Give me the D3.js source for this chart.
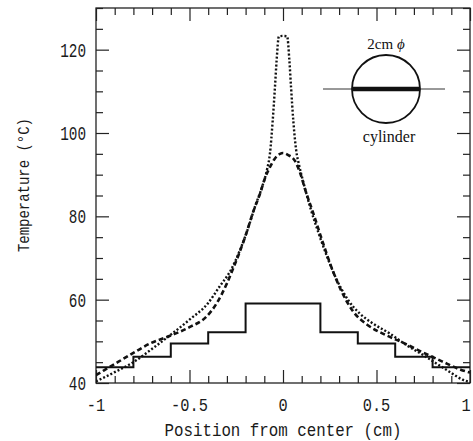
<!DOCTYPE html>
<html>
<head>
<meta charset="utf-8">
<title>Temperature profile</title>
<script src="https://d3js.org/d3.v7.min.js"></script>
<style>
body { margin: 0; background: #fff; }
.lbl { font-family: "Liberation Mono", "DejaVu Sans Mono", monospace; fill: #1a1a1a; }
.ser { font-family: "Liberation Serif", "Times New Roman", serif; fill: #111; }
</style>
</head>
<body>
<div id="chart"></div>
<script>
// dotted curve (sharp peak)
var dotX = [-1, -0.9, -0.8, -0.7, -0.6, -0.5, -0.4, -0.34, -0.28, -0.23, -0.19, -0.15, -0.11, -0.085, -0.07, -0.055, -0.043, -0.034, -0.022, 0, 0.022, 0.034, 0.043, 0.055, 0.07, 0.085, 0.11, 0.15, 0.19, 0.23, 0.28, 0.35, 0.41, 0.48, 0.57, 0.66, 0.75, 0.82, 0.89, 0.96, 1];
var dotY = [40.4, 42.6, 45.0, 48.2, 51.6, 55.2, 59.2, 63.1, 67.0, 71.9, 76.7, 82.3, 87.3, 91.3, 95.0, 103, 111, 117.5, 123.2, 123.3, 123.2, 117.5, 111, 103, 96, 92.5, 88, 81.5, 76, 71, 65.5, 59.8, 56.7, 54.3, 51.9, 49.1, 46.7, 44.7, 42.7, 40.8, 40.2];
// dashed curve (rounded peak)
var dashX = [-1, -0.91, -0.82, -0.71, -0.6, -0.5, -0.41, -0.355, -0.3, -0.27, -0.2, -0.16, -0.12, -0.096, -0.07, -0.043, -0.016, 0, 0.028, 0.064, 0.091, 0.12, 0.16, 0.2, 0.27, 0.31, 0.376, 0.45, 0.55, 0.65, 0.75, 0.85, 0.95, 1];
var dashY = [41.9, 44.3, 46.7, 49.5, 51.4, 53.4, 55.9, 59.1, 63.9, 67.1, 75.4, 81.0, 85.8, 89.2, 91.8, 93.9, 95.0, 95.2, 94.7, 93.3, 90.5, 86.2, 81.0, 75.5, 66.5, 62.3, 57.1, 54.0, 51.5, 49.5, 47.3, 45.2, 43.2, 42.5];
// solid step profile
var stepEdges = [-1, -0.8, -0.6, -0.4, -0.2, 0, 0.2, 0.4, 0.6, 0.8];
var stepVals = [43.8, 46.3, 49.5, 52.2, 59.1, 59.1, 52.2, 49.5, 46.3, 43.8];

var xMajor = [-1, -0.5, 0, 0.5, 1];
var xLabels = ["-1", "-0.5", "0", "0.5", "1"];
var yMajor = [40, 60, 80, 100, 120];
var yLabels = ["40", "60", "80", "100", "120"];

var W = 473, H = 441;
var L = 96, R = 470, T = 8, B = 383;

var svg = d3.select("#chart").append("svg").attr("width", W).attr("height", H);
var x = d3.scaleLinear().domain([-1, 1]).range([L, R]);
var y = d3.scaleLinear().domain([40, 130]).range([B, T]);

var xMinor = d3.range(-10, 11).map(function(i){ return i / 10; }).filter(function(v){ return xMajor.indexOf(v) < 0; });
var yMinor = d3.range(40, 131, 5).filter(function(v){ return yMajor.indexOf(v) < 0; });

function tickGroup(axis, tx, ty) {
  var g = svg.append("g").attr("transform", "translate(" + tx + "," + ty + ")").call(axis);
  g.select(".domain").remove();
  g.selectAll("text").remove();
  g.selectAll("line").attr("stroke", "#222").attr("stroke-width", 1.2);
}
tickGroup(d3.axisBottom(x).tickValues(xMajor).tickSize(-13), 0, B);
tickGroup(d3.axisBottom(x).tickValues(xMinor).tickSize(-7), 0, B);
tickGroup(d3.axisTop(x).tickValues(xMajor).tickSize(-13), 0, T);
tickGroup(d3.axisTop(x).tickValues(xMinor).tickSize(-7), 0, T);
tickGroup(d3.axisLeft(y).tickValues(yMajor).tickSize(-13), L, 0);
tickGroup(d3.axisLeft(y).tickValues(yMinor).tickSize(-7), L, 0);
tickGroup(d3.axisRight(y).tickValues(yMajor).tickSize(-13), R, 0);
tickGroup(d3.axisRight(y).tickValues(yMinor).tickSize(-7), R, 0);

svg.append("rect").attr("x", L).attr("y", T).attr("width", R - L).attr("height", B - T)
  .attr("fill", "none").attr("stroke", "#222").attr("stroke-width", 1.3);

// tick labels
svg.selectAll(".xl").data(xMajor).enter().append("text")
  .attr("class", "lbl").attr("x", function(d){ return Math.min(x(d), 466); }).attr("y", 411)
  .attr("text-anchor", "middle").attr("font-size", 18)
  .attr("textLength", function(d, i){ return xLabels[i].length * 9.2; })
  .attr("lengthAdjust", "spacingAndGlyphs")
  .text(function(d, i){ return xLabels[i]; });

svg.selectAll(".yl").data(yMajor).enter().append("text")
  .attr("class", "lbl").attr("x", 86).attr("y", function(d){ return y(d) + 7; })
  .attr("text-anchor", "end").attr("font-size", 20)
  .attr("textLength", function(d, i){ return yLabels[i].length * 8.6; })
  .attr("lengthAdjust", "spacingAndGlyphs")
  .text(function(d, i){ return yLabels[i]; });

svg.append("text").attr("class", "lbl").attr("x", 283).attr("y", 436)
  .attr("text-anchor", "middle").attr("font-size", 18)
  .attr("textLength", 237).attr("lengthAdjust", "spacingAndGlyphs")
  .text("Position from center (cm)");

svg.append("text").attr("class", "lbl")
  .attr("transform", "translate(29,185) rotate(-90)")
  .attr("text-anchor", "middle").attr("font-size", 17)
  .attr("textLength", 134).attr("lengthAdjust", "spacingAndGlyphs")
  .text("Temperature (°C)");

// curves
svg.append("clipPath").attr("id", "plot").append("rect")
  .attr("x", L).attr("y", T).attr("width", R - L).attr("height", B - T);
var plot = svg.append("g").attr("clip-path", "url(#plot)");

var line = d3.line().x(function(d){ return x(d[0]); }).y(function(d){ return y(d[1]); });

var stepPts = stepEdges.map(function(e, i){ return [e, stepVals[i]]; });
stepPts.push([1, stepVals[stepVals.length - 1]]);
plot.append("path").attr("d", line.curve(d3.curveStepAfter)(stepPts))
  .attr("fill", "none").attr("stroke", "#111").attr("stroke-width", 2);

plot.append("path").attr("d", line.curve(d3.curveMonotoneX)(dashX.map(function(v, i){ return [v, dashY[i]]; })))
  .attr("fill", "none").attr("stroke", "#111").attr("stroke-width", 2.6)
  .attr("stroke-dasharray", "5,3");

plot.append("path").attr("d", line.curve(d3.curveMonotoneX)(dotX.map(function(v, i){ return [v, dotY[i]]; })))
  .attr("fill", "none").attr("stroke", "#111").attr("stroke-width", 2.4)
  .attr("stroke-dasharray", "2,2");

// inset: cylinder cross-section
var cx = 386, cy = 89, r = 34;
svg.append("line").attr("x1", 323).attr("x2", 445).attr("y1", cy).attr("y2", cy)
  .attr("stroke", "#333").attr("stroke-width", 1);
svg.append("circle").attr("cx", cx).attr("cy", cy).attr("r", r)
  .attr("fill", "none").attr("stroke", "#111").attr("stroke-width", 1.8);
svg.append("line").attr("x1", cx - r).attr("x2", cx + r).attr("y1", cy).attr("y2", cy)
  .attr("stroke", "#111").attr("stroke-width", 4.5);
var t1 = svg.append("text").attr("class", "ser").attr("x", cx).attr("y", 49)
  .attr("text-anchor", "middle").attr("font-size", 15);
t1.append("tspan").text("2cm ");
t1.append("tspan").attr("font-style", "italic").text("ϕ");
svg.append("text").attr("class", "ser").attr("x", cx + 3).attr("y", 142)
  .attr("text-anchor", "middle").attr("font-size", 16).text("cylinder");
</script>
</body>
</html>
